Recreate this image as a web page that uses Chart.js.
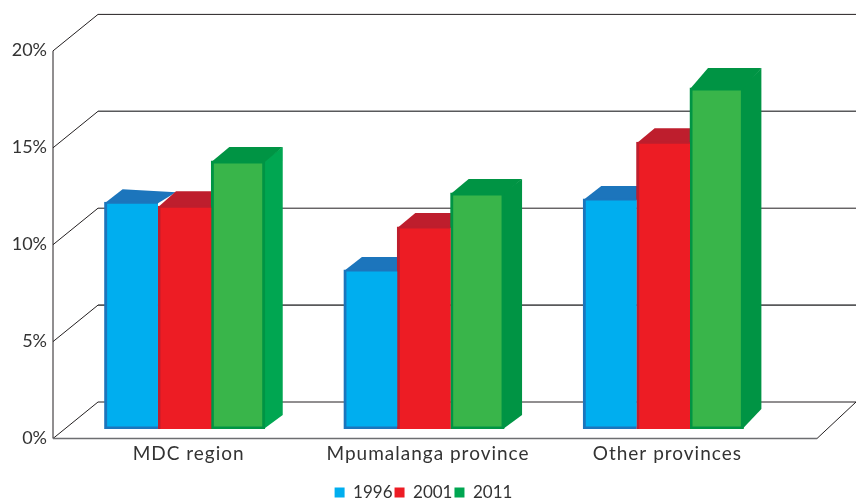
<!DOCTYPE html>
<html><head><meta charset="utf-8">
<style>html,body{margin:0;padding:0;background:#fff}#w{width:856px;height:500px}</style>
<script src="https://cdn.jsdelivr.net/npm/chart.js@4"></script></head>
<body><div id="w"><canvas id="c" width="856" height="500"></canvas></div>
<script>
const categories = ["MDC region", "Mpumalanga province", "Other provinces"];
const tickLabels = ["0%", "5%", "10%", "15%", "20%"];
const years = ["1996", "2001", "2011"];
const values1996 = [11.7, 8.2, 11.87];
const values2001 = [11.5, 10.42, 14.8];
const values2011 = [13.83, 12.18, 17.6];
const fills = ["#00aeef", "#ed1c24", "#39b54a"];
const swatches = ["#00aeef", "#ed1c24", "#00a651"];
const borders = ["#1c75bc", "#be1e2d", "#009444"];
const tops = ["#1c75bc", "#be1e2d", "#009444"];
const sideColors = ["#00a651", "#009444", "#009444"];
const depthX = 18;
const depthY = [[13, 13, 13], [15, 14, 14], [14, 14, 20]];
const lineColors = ["#231f20", "#58595b", "#231f20", "#58595b", "#231f20"];
const font = "Lato, 'Open Sans', sans-serif";

function poly(ctx, pts, col){ctx.fillStyle=col;ctx.beginPath();pts.forEach((p,i)=>i?ctx.lineTo(p[0],p[1]):ctx.moveTo(p[0],p[1]));ctx.closePath();ctx.fill();}
function line(ctx,a,b){ctx.beginPath();ctx.moveTo(a[0],a[1]);ctx.lineTo(b[0],b[1]);ctx.stroke();}

const wall = {
  id:"wall",
  afterLayout(chart){
    const lg=chart.legend;
    lg.top+=11;lg.bottom+=11;lg.left+=32;lg.right+=32;
  },
  beforeDatasetsDraw(chart){
    const {ctx,scales:{y}}=chart;
    ctx.save();ctx.lineWidth=1;
    const fx=53,bx=98,fo=9.5,bo=-27;
    y.ticks.forEach((t,i)=>{
      const p=y.getPixelForValue(t.value);
      ctx.strokeStyle="#231f20";ctx.lineWidth=1;
      line(ctx,[fx,p+fo],[bx,p+bo]);
      ctx.strokeStyle=lineColors[i];ctx.lineWidth=lineColors[i]==="#231f20"?1:1.6;
      line(ctx,[bx,p+bo],[856,p+bo]);
    });
    const z=y.getPixelForValue(0), t20=y.getPixelForValue(20);
    ctx.strokeStyle="#231f20";ctx.lineWidth=1;
    line(ctx,[fx,t20+fo],[fx,z+fo]);
    line(ctx,[817,z+fo],[856,z+bo]);
    ctx.strokeStyle="#6d6e71";ctx.lineWidth=1.6;
    line(ctx,[fx,z+fo],[817,z+fo]);
    // extruded top and side faces, painted behind the front faces
    chart.data.datasets.forEach((ds,di)=>{
      chart.getDatasetMeta(di).data.forEach((b,gi)=>{
        const w=b.width,l=b.x-w/2,r=b.x+w/2,t=b.y,base=b.base,dy=depthY[di][gi];
        if(di===2)poly(ctx,[[r-1,t],[r+depthX,t-dy],[r+depthX,base-dy],[r-1,base]],sideColors[gi]);
        poly(ctx,[[l,t+1],[l+depthX,t-dy],[r+depthX,t-dy+(di===0&&gi===0?3:0)],[r,t+1]],tops[di]);
      });
    });
    ctx.restore();
  }
};

function spaced(s){
  if(s.$wrapped)return;
  s.$wrapped=true;
  const draw=s.drawLabels;
  s.drawLabels=function(a){s.ctx.letterSpacing="1px";draw.call(s,a);s.ctx.letterSpacing="0px";};
}

new Chart(document.getElementById("c"),{
  type:"bar",
  data:{labels:categories,datasets:[
    {label:years[0],data:values1996,backgroundColor:fills[0],borderColor:borders[0],borderWidth:{left:3,bottom:3,top:2,right:0},borderSkipped:false,inflateAmount:0.5},
    {label:years[1],data:values2001,backgroundColor:fills[1],borderColor:borders[1],borderWidth:{left:3,bottom:0,top:2,right:0},borderSkipped:false,inflateAmount:0.5},
    {label:years[2],data:values2011,backgroundColor:fills[2],borderColor:borders[2],borderWidth:{left:3,bottom:3,top:3,right:3},borderSkipped:false,inflateAmount:0.5}
  ]},
  plugins:[wall],
  options:{
    responsive:false,animation:false,
    layout:{padding:{top:41.4,right:73,bottom:0,left:0}},
    datasets:{bar:{barPercentage:1,categoryPercentage:0.669}},
    plugins:{
      tooltip:{enabled:false},
      legend:{position:"bottom",align:"center",labels:{boxWidth:10,boxHeight:10,padding:2,color:"#333333",font:{family:font,size:17},
        generateLabels:(c)=>years.map((y,i)=>({text:y,fillStyle:swatches[i],strokeStyle:swatches[i],lineWidth:0,datasetIndex:i,fontColor:"#333333"}))}}
    },
    scales:{
      y:{min:0,max:20,grid:{display:false},border:{display:false},
        afterFit(s){s.width=65;},
        afterBuildTicks(s){s.ticks=tickLabels.map((l,i)=>({value:i*5}));},
        ticks:{padding:10,labelOffset:9,color:"#333333",font:{family:font,size:18},callback:(v)=>tickLabels[v/5]}},
      x:{grid:{display:false},border:{display:false},
        afterFit(s){s.height=42;spaced(s);},
        ticks:{padding:5,labelOffset:4,color:"#333333",font:{family:font,size:19},maxRotation:0}}
    }
  }
});
</script></body></html>
